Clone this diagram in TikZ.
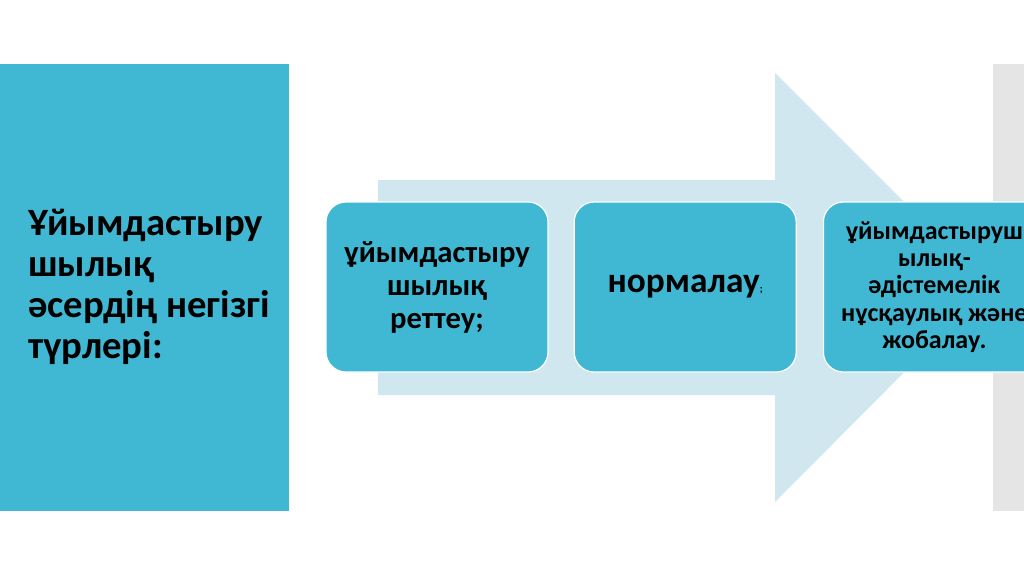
\documentclass[tikz,border=0pt]{standalone}
\usepackage{fontspec}
\setmainfont{Carlito}
\usetikzlibrary{positioning,calc}
\definecolor{sea}{HTML}{41B8D3}
\definecolor{mist}{HTML}{D0E7EF}
\definecolor{ash}{HTML}{E5E5E5}
\colorlet{acc}{sea}
\tikzset{
  stage/.style={draw=white,line width=0.9pt,fill=acc,rounded corners=15pt,
    minimum width=166.5pt,minimum height=127.5pt,align=center,
    font=\bfseries\fontsize{23}{24.75}\selectfont},
}

\begin{document}
\begin{tikzpicture}[x=0.75pt,y=-0.75pt]
            \useasboundingbox (0,0) rectangle (1024,576);
            \clip (0,0) rectangle (1024,576);
            \fill[white] (0,0) rectangle (1024,576);
            \fill[acc] (0,64) rectangle (289,511);
            \fill[mist] (378,180) -- (775,180) -- (775,73) -- (989,287)
              -- (775,502) -- (775,395) -- (378,395) -- cycle;
            \fill[ash] (993,64) rectangle (1024,511);
            \node[anchor=west,align=left,inner sep=0pt,
                  font=\bfseries\fontsize{29}{30.75}\selectfont] (kinds) at (28,287)
              {Ұйымдастыру\\шылық\\әсердің негізгі\\түрлері:};
            \node[stage] (reg) at (437,287) {ұйымдастыру\\шылық\\реттеу;};
            \node[stage,right=18.75pt of reg,
                  font=\bfseries\fontsize{26.5}{28}\selectfont] (norm)
              {нормалау{\fontsize{8}{8}\selectfont;}};
            \node[stage,right=19.5pt of norm,
                  font=\bfseries\fontsize{19.5}{20.5}\selectfont] (design)
              {ұйымдастыруш\\ылық-\\әдістемелік\\нұсқаулық және\\жобалау.};
          \end{tikzpicture}
\end{document}
